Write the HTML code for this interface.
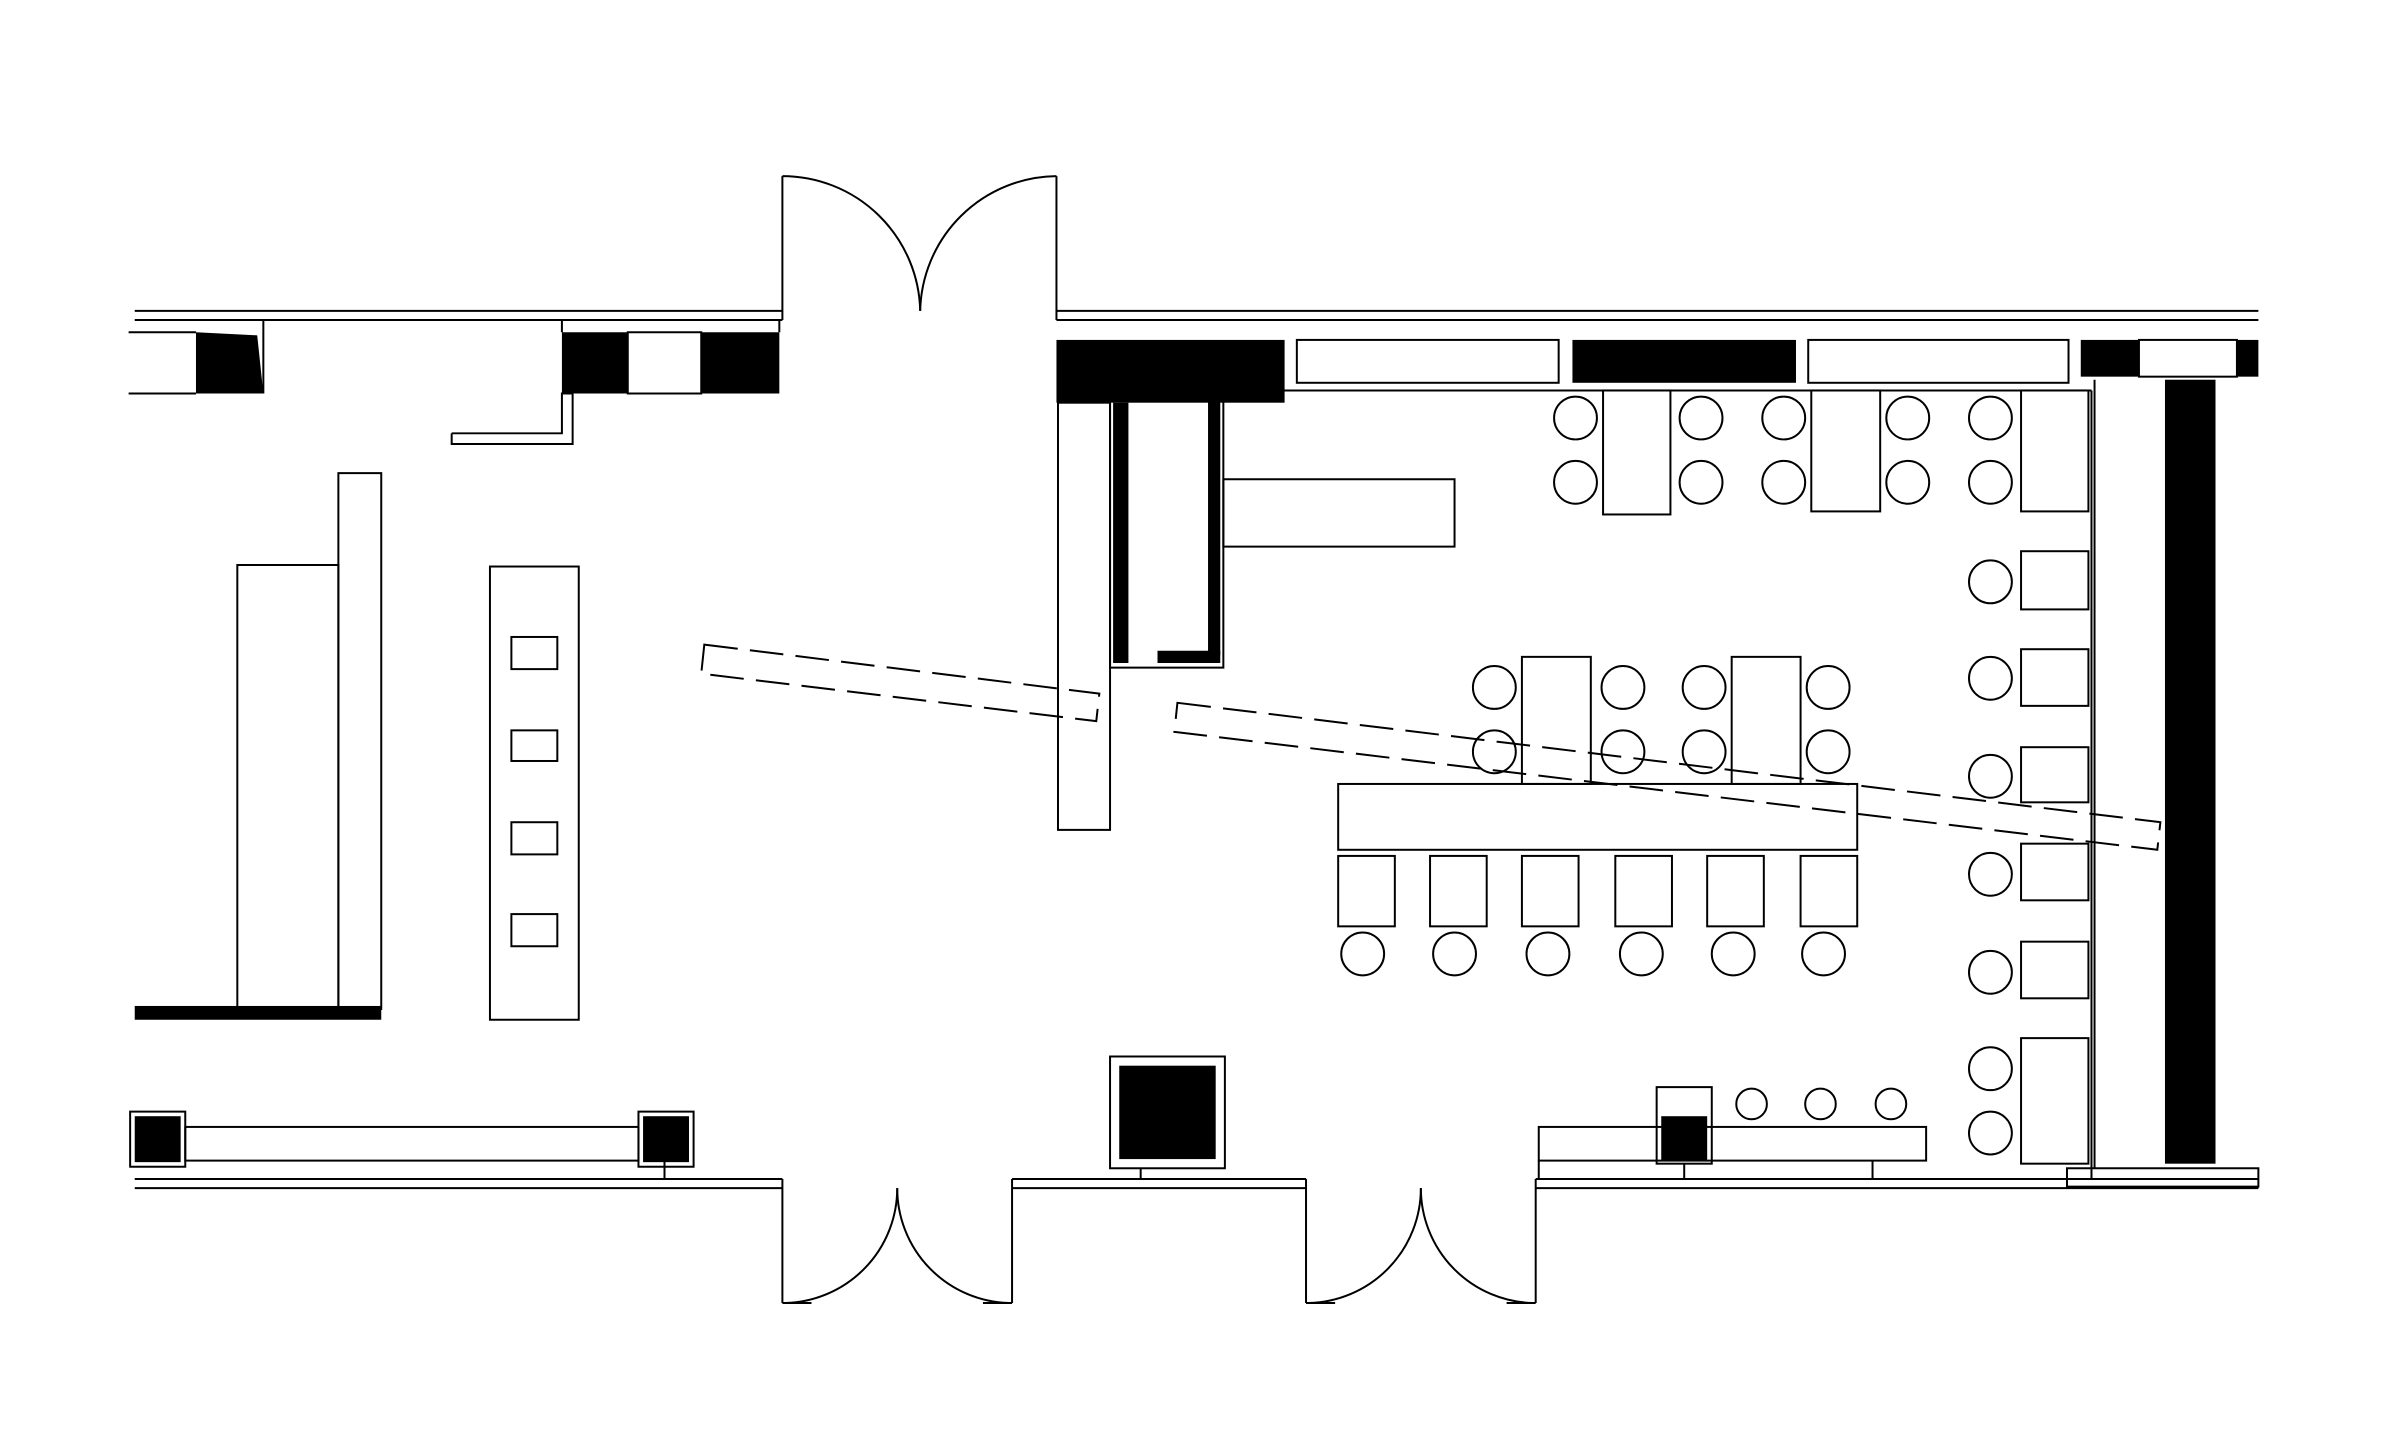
<!DOCTYPE html>
<html><head><meta charset="utf-8"><style>
html,body{margin:0;padding:0;background:#fff;}
svg{display:block;}
</style></head><body>
<svg width="2400" height="1450" viewBox="0 0 1567.5 947" preserveAspectRatio="none" xmlns="http://www.w3.org/2000/svg">
<g fill="none" stroke="#000" stroke-width="1.3">
<line x1="88" y1="203" x2="511" y2="203"/><line x1="88" y1="209" x2="511" y2="209"/>
<line x1="690" y1="203" x2="1475" y2="203"/><line x1="690" y1="209" x2="1475" y2="209"/>
<line x1="84" y1="217" x2="128" y2="217"/><line x1="84" y1="257" x2="128" y2="257"/>
<line x1="172" y1="209" x2="172" y2="257"/><line x1="367" y1="209" x2="367" y2="217"/>
<line x1="509" y1="209" x2="509" y2="217"/>
<rect x="410" y="217" width="48" height="40"/>
<polyline points="295,283 367,283 367,257 374,257 374,290 295,290 295,283"/>
<line x1="511" y1="115" x2="511" y2="209"/><line x1="690" y1="115" x2="690" y2="209"/>
<path d="M511,115 A90,90 0 0 1 601,203"/><path d="M690,115 A90,90 0 0 0 601,203"/>
<rect x="847" y="222" width="171" height="28"/><rect x="1181" y="222" width="170" height="28"/>
<rect x="1397" y="222" width="64" height="24"/>
<rect x="691" y="263" width="34" height="279"/>
<polyline points="725,263 725,436 799,436 799,255 1366,255"/>
<rect x="799" y="313" width="151" height="44"/>
<line x1="1366" y1="255" x2="1366" y2="770"/><line x1="1368" y1="248" x2="1368" y2="763"/>
<rect x="1350" y="763" width="125" height="12"/>
<rect x="1047" y="255" width="44" height="81"/><rect x="1183" y="255" width="45" height="79"/><rect x="1320" y="255" width="44" height="79"/>
<circle cx="1029" cy="273" r="14"/><circle cx="1029" cy="315" r="14"/>
<circle cx="1111" cy="273" r="14"/><circle cx="1111" cy="315" r="14"/>
<circle cx="1165" cy="273" r="14"/><circle cx="1165" cy="315" r="14"/>
<circle cx="1246" cy="273" r="14"/><circle cx="1246" cy="315" r="14"/>
<circle cx="1300" cy="273" r="14"/><circle cx="1300" cy="315" r="14"/>
<rect x="1320" y="360" width="44" height="38"/><rect x="1320" y="424" width="44" height="37"/>
<rect x="1320" y="488" width="44" height="36"/><rect x="1320" y="551" width="44" height="37"/>
<rect x="1320" y="615" width="44" height="37"/><rect x="1320" y="678" width="44" height="82"/>
<circle cx="1300" cy="380" r="14"/><circle cx="1300" cy="443" r="14"/><circle cx="1300" cy="507" r="14"/>
<circle cx="1300" cy="571" r="14"/><circle cx="1300" cy="635" r="14"/><circle cx="1300" cy="698" r="14"/><circle cx="1300" cy="740" r="14"/>
<rect x="994" y="429" width="45" height="83"/><rect x="1131" y="429" width="45" height="83"/>
<circle cx="976" cy="449" r="14"/><circle cx="976" cy="491" r="14"/>
<circle cx="1060" cy="449" r="14"/><circle cx="1060" cy="491" r="14"/>
<circle cx="1113" cy="449" r="14"/><circle cx="1113" cy="491" r="14"/>
<circle cx="1194" cy="449" r="14"/><circle cx="1194" cy="491" r="14"/>
<rect x="874" y="512" width="339" height="43"/>
<rect x="874" y="559" width="37" height="46"/><rect x="934" y="559" width="37" height="46"/>
<rect x="994" y="559" width="37" height="46"/><rect x="1055" y="559" width="37" height="46"/>
<rect x="1115" y="559" width="37" height="46"/><rect x="1176" y="559" width="37" height="46"/>
<circle cx="890" cy="623" r="14"/><circle cx="950" cy="623" r="14"/><circle cx="1011" cy="623" r="14"/>
<circle cx="1072" cy="623" r="14"/><circle cx="1132" cy="623" r="14"/><circle cx="1191" cy="623" r="14"/>
<polygon points="460,421 718,453 716,471 458,440" stroke-dasharray="22,8"/>
<polygon points="769,459 1411,537 1409,555 767,478" stroke-dasharray="22,8"/>
<rect x="155" y="369" width="66" height="290"/><rect x="221" y="309" width="28" height="350"/>
<rect x="320" y="370" width="58" height="296"/>
<rect x="334" y="416" width="30" height="21"/><rect x="334" y="477" width="30" height="20"/>
<rect x="334" y="537" width="30" height="21"/><rect x="334" y="597" width="30" height="21"/>
<line x1="88" y1="770" x2="511" y2="770"/><line x1="88" y1="776" x2="511" y2="776"/>
<line x1="661" y1="770" x2="853" y2="770"/><line x1="661" y1="776" x2="853" y2="776"/>
<line x1="1003" y1="770" x2="1475" y2="770"/><line x1="1003" y1="776" x2="1475" y2="776"/>
<rect x="121" y="736" width="296" height="22"/>
<rect x="85" y="726" width="36" height="36"/><rect x="417" y="726" width="36" height="36"/>
<line x1="434" y1="758" x2="434" y2="770"/>
<line x1="511" y1="770" x2="511" y2="851"/><line x1="661" y1="770" x2="661" y2="851"/>
<line x1="511" y1="851" x2="530" y2="851"/><line x1="642" y1="851" x2="661" y2="851"/>
<path d="M586,776 A75,75 0 0 1 513,851"/><path d="M586,776 A75,75 0 0 0 659,851"/>
<line x1="853" y1="770" x2="853" y2="851"/><line x1="1003" y1="770" x2="1003" y2="851"/>
<line x1="853" y1="851" x2="872" y2="851"/><line x1="984" y1="851" x2="1003" y2="851"/>
<path d="M928,776 A75,75 0 0 1 855,851"/><path d="M928,776 A75,75 0 0 0 1001,851"/>
<rect x="725" y="690" width="75" height="73"/><line x1="745" y1="763" x2="745" y2="770"/>
<rect x="1005" y="736" width="253" height="22"/>
<line x1="1005" y1="758" x2="1005" y2="770"/><line x1="1223" y1="758" x2="1223" y2="770"/>
<rect x="1082" y="710" width="36" height="50"/>
<line x1="1100" y1="760" x2="1100" y2="770"/>
<circle cx="1144" cy="721" r="10"/><circle cx="1189" cy="721" r="10"/><circle cx="1235" cy="721" r="10"/>
</g>
<g fill="#000">
<polygon points="128,217 168,219 172,257 128,257"/>
<rect x="367" y="217" width="43" height="40"/><rect x="458" y="217" width="51" height="40"/>
<rect x="690" y="222" width="149" height="41"/>
<rect x="1027" y="222" width="146" height="28"/>
<rect x="1359" y="222" width="38" height="24"/><rect x="1461" y="222" width="14" height="24"/>
<rect x="727" y="263" width="10" height="170"/>
<rect x="789" y="255" width="8" height="173"/>
<rect x="756" y="425" width="41" height="8"/>
<rect x="1414" y="248" width="33" height="512"/>
<rect x="88" y="657" width="161" height="9"/>
<rect x="88" y="729" width="30" height="30"/><rect x="420" y="729" width="30" height="30"/>
<rect x="731" y="696" width="63" height="61"/>
<rect x="1085" y="729" width="30" height="29"/>
</g>
</svg>
</body></html>
